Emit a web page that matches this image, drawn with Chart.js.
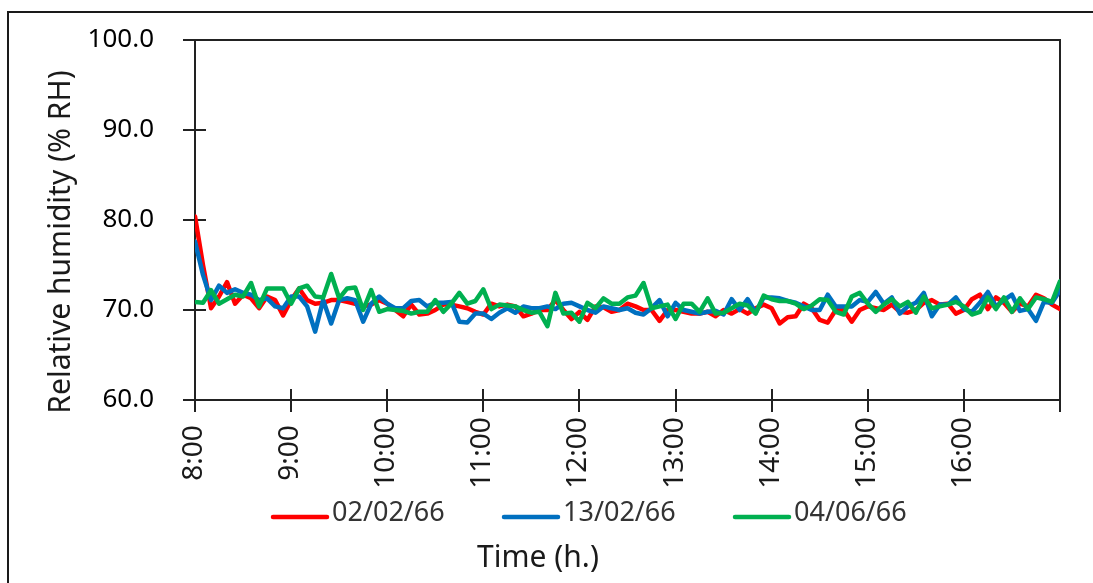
<!DOCTYPE html>
<html>
<head>
<meta charset="utf-8">
<script src="https://cdn.jsdelivr.net/npm/chart.js@4"></script>
<style>
  html, body { margin: 0; padding: 0; background: #fff; overflow: hidden; }
  #page { position: relative; width: 1093px; height: 583px; overflow: hidden; }
  #outline { position: absolute; left: 7px; top: 11px; width: 2000px; height: 2000px;
             border-top: 2px solid #1a1a1a; border-left: 2px solid #1a1a1a; }
  #chart { position: absolute; left: 0; top: 0; }
</style>
</head>
<body>
<div id="page">
  <div id="outline"></div>
  <canvas id="chart" width="1093" height="583"></canvas>
</div>
<script>
// Relative humidity logged every 5 minutes from 8:00 to 17:00 on three days
const sampleMinutes = 5;
const hourLabels = ['8:00', '9:00', '10:00', '11:00', '12:00', '13:00', '14:00', '15:00', '16:00'];
const seriesNames = ['02/02/66', '13/02/66', '04/06/66'];
const seriesColors = ['#FF0000', '#0070C0', '#00B050'];

const rh020266 = [
  80.4, 75.0, 70.2, 71.5, 73.1, 70.7, 71.7, 71.3, 70.2, 71.5,
  71.1, 69.4, 71.1, 72.4, 71.1, 70.7, 70.8, 71.1, 71.1, 70.9,
  70.7, 70.4, 70.6, 71.1, 70.7, 70.0, 69.3, 70.6, 69.5, 69.6,
  70.0, 70.6, 70.6, 70.4, 70.2, 69.8, 69.5, 70.7, 70.4, 70.6,
  70.4, 69.3, 69.6, 70.0, 70.0, 71.1, 70.0, 69.0, 69.8, 68.9,
  70.4, 70.3, 69.8, 70.0, 70.7, 70.4, 70.0, 70.0, 68.8, 70.0,
  70.0, 69.8, 69.6, 69.6, 69.8, 69.3, 70.0, 69.6, 70.1, 69.6,
  70.2, 70.6, 70.2, 68.5, 69.2, 69.3, 70.7, 70.2, 68.9, 68.6,
  70.0, 70.0, 68.7, 70.0, 70.4, 70.2, 70.0, 70.6, 69.8, 69.7,
  70.0, 70.8, 71.1, 70.6, 70.7, 69.6, 70.0, 71.2, 71.7, 70.1,
  71.4, 70.8, 69.8, 70.7, 70.4, 71.7, 71.3, 70.6, 70.1
];

const rh130266 = [
  77.6, 73.9, 71.1, 72.7, 71.9, 72.3, 71.9, 71.7, 71.1, 71.3,
  70.4, 70.2, 71.5, 71.5, 70.4, 67.6, 71.1, 68.5, 71.1, 71.3,
  71.1, 68.7, 70.7, 71.5, 70.7, 70.2, 70.2, 71.0, 71.1, 70.4,
  70.8, 70.8, 70.9, 68.7, 68.6, 69.6, 69.6, 69.0, 69.7, 70.2,
  69.7, 70.4, 70.2, 70.2, 70.4, 70.1, 70.7, 70.8, 70.4, 70.0,
  69.7, 70.4, 70.2, 70.0, 70.2, 69.7, 69.5, 70.2, 71.1, 69.3,
  70.8, 70.0, 69.8, 69.6, 69.8, 69.9, 69.5, 71.2, 70.0, 71.2,
  69.7, 71.4, 71.4, 71.3, 71.0, 70.8, 70.4, 70.0, 70.0, 71.7,
  70.4, 70.4, 70.4, 71.1, 70.9, 72.0, 70.7, 71.4, 69.6, 70.4,
  70.8, 71.9, 69.3, 70.6, 70.6, 71.4, 70.1, 69.8, 70.8, 72.0,
  70.4, 71.1, 71.7, 69.9, 70.1, 68.8, 70.9, 70.8, 72.2
];

const rh040666 = [
  70.9, 70.8, 72.2, 70.7, 71.2, 71.7, 71.5, 73.0, 70.4, 72.4,
  72.4, 72.4, 70.7, 72.4, 72.7, 71.5, 71.4, 74.0, 71.3, 72.4,
  72.5, 70.0, 72.2, 69.8, 70.1, 70.0, 69.9, 69.6, 69.8, 69.8,
  71.1, 69.8, 70.7, 71.9, 70.7, 71.0, 72.3, 70.1, 70.6, 70.5,
  70.4, 70.0, 69.7, 69.8, 68.2, 71.9, 69.6, 69.7, 68.7, 70.8,
  70.2, 71.3, 70.7, 70.7, 71.4, 71.6, 73.0, 70.2, 70.4, 70.6,
  69.0, 70.7, 70.7, 69.8, 71.3, 69.6, 69.7, 70.2, 70.7, 70.5,
  69.6, 71.6, 71.2, 71.0, 71.0, 70.7, 70.1, 70.5, 71.2, 71.1,
  69.8, 69.5, 71.5, 71.9, 70.7, 69.8, 70.6, 71.2, 70.4, 70.9,
  69.7, 71.5, 70.2, 70.4, 70.6, 70.9, 70.4, 69.5, 69.8, 71.4,
  70.1, 71.4, 69.8, 71.3, 70.1, 71.4, 71.2, 70.9, 73.2
];

const seriesValues = [rh020266, rh130266, rh040666];

const FONT = "'Noto Sans', 'DejaVu Sans', sans-serif";
const axisColor = '#222222';
const tickOut = 12;
const tickIn = 11;

const toPoints = (values) => values.map((v, i) => ({ x: i * sampleMinutes, y: v }));

const decorations = {
  id: 'decorations',
  beforeDatasetsDraw(chart) {
    const { ctx, chartArea: a, scales: { x, y } } = chart;
    ctx.save();
    ctx.strokeStyle = axisColor;
    ctx.lineWidth = 2;
    ctx.beginPath();
    // frame: top and right edges of the plot
    ctx.moveTo(a.left - tickOut, a.top);
    ctx.lineTo(a.right, a.top);
    ctx.lineTo(a.right, a.bottom);
    // inner halves of the cross tick marks
    y.ticks.forEach(t => {
      const py = Math.round(y.getPixelForValue(t.value));
      ctx.moveTo(a.left, py);
      ctx.lineTo(a.left + tickIn, py);
    });
    x.ticks.forEach(t => {
      const px = Math.round(x.getPixelForValue(t.value));
      ctx.moveTo(px, a.bottom);
      ctx.lineTo(px, a.bottom - tickIn);
    });
    ctx.stroke();
    ctx.restore();
  },
  afterDraw(chart) {
    const { ctx, chartArea: a, scales: { x } } = chart;
    ctx.save();

    // hour labels, rotated and centred under each tick
    ctx.fillStyle = '#1a1a1a';
    ctx.font = `28px ${FONT}`;
    ctx.textAlign = 'center';
    ctx.textBaseline = 'middle';
    hourLabels.forEach((label, h) => {
      const px = x.getPixelForValue(h * 60);
      ctx.save();
      ctx.translate(px - 1, a.bottom + 53);
      ctx.rotate(-Math.PI / 2);
      ctx.fillText(label, 0, 0);
      ctx.restore();
    });

    // y axis title
    ctx.fillStyle = '#1a1a1a';
    ctx.font = `30px ${FONT}`;
    ctx.textAlign = 'center';
    ctx.textBaseline = 'alphabetic';
    ctx.save();
    ctx.translate(70, 242);
    ctx.rotate(-Math.PI / 2);
    ctx.fillText('Relative humidity (% RH)', 0, 0);
    ctx.restore();

    // x axis title
    ctx.fillText('Time (h.)', 538, 567);

    // legend row
    ctx.font = `27px ${FONT}`;
    ctx.textAlign = 'left';
    chart.data.datasets.forEach((ds, i) => {
      const x0 = 273 + i * 231;
      ctx.strokeStyle = ds.borderColor;
      ctx.lineWidth = 4.5;
      ctx.lineCap = 'round';
      ctx.beginPath();
      ctx.moveTo(x0, 517);
      ctx.lineTo(x0 + 54, 517);
      ctx.stroke();
      ctx.fillStyle = '#333333';
      ctx.fillText(ds.label, x0 + 59, 521);
    });

    ctx.restore();
  }
};

new Chart(document.getElementById('chart'), {
  type: 'line',
  data: {
    datasets: seriesNames.map((name, k) => ({
      label: name,
      data: toPoints(seriesValues[k]),
      borderColor: seriesColors[k],
      backgroundColor: seriesColors[k],
      borderWidth: 4.5,
      pointRadius: 0,
      tension: 0,
      borderJoinStyle: 'round',
      borderCapStyle: 'round',
      // later days are drawn over earlier ones
      order: seriesNames.length - k
    }))
  },
  options: {
    responsive: false,
    animation: false,
    devicePixelRatio: 1,
    layout: { autoPadding: false, padding: { left: 0, top: 40, right: 33, bottom: 83 } },
    plugins: {
      legend: { display: false },
      tooltip: { enabled: false }
    },
    scales: {
      x: {
        type: 'linear',
        min: 0,
        max: 540,
        afterFit: (s) => { s.height = 100; },
        ticks: { stepSize: 60, display: false },
        grid: {
          drawOnChartArea: false,
          drawTicks: true,
          tickLength: tickOut,
          color: axisColor,
          lineWidth: 2
        },
        border: { display: true, color: axisColor, width: 2 }
      },
      y: {
        min: 60,
        max: 100,
        afterFit: (s) => { s.width = 195; s.paddingTop = 0; s.paddingBottom = 0; },
        ticks: {
          stepSize: 10,
          padding: 29,
          color: '#000000',
          font: { family: FONT, size: 26 },
          callback: (v) => v.toFixed(1)
        },
        grid: {
          drawOnChartArea: false,
          drawTicks: true,
          tickLength: tickOut,
          color: axisColor,
          lineWidth: 2
        },
        border: { display: true, color: axisColor, width: 2 }
      }
    }
  },
  plugins: [decorations]
});
</script>
</body>
</html>
